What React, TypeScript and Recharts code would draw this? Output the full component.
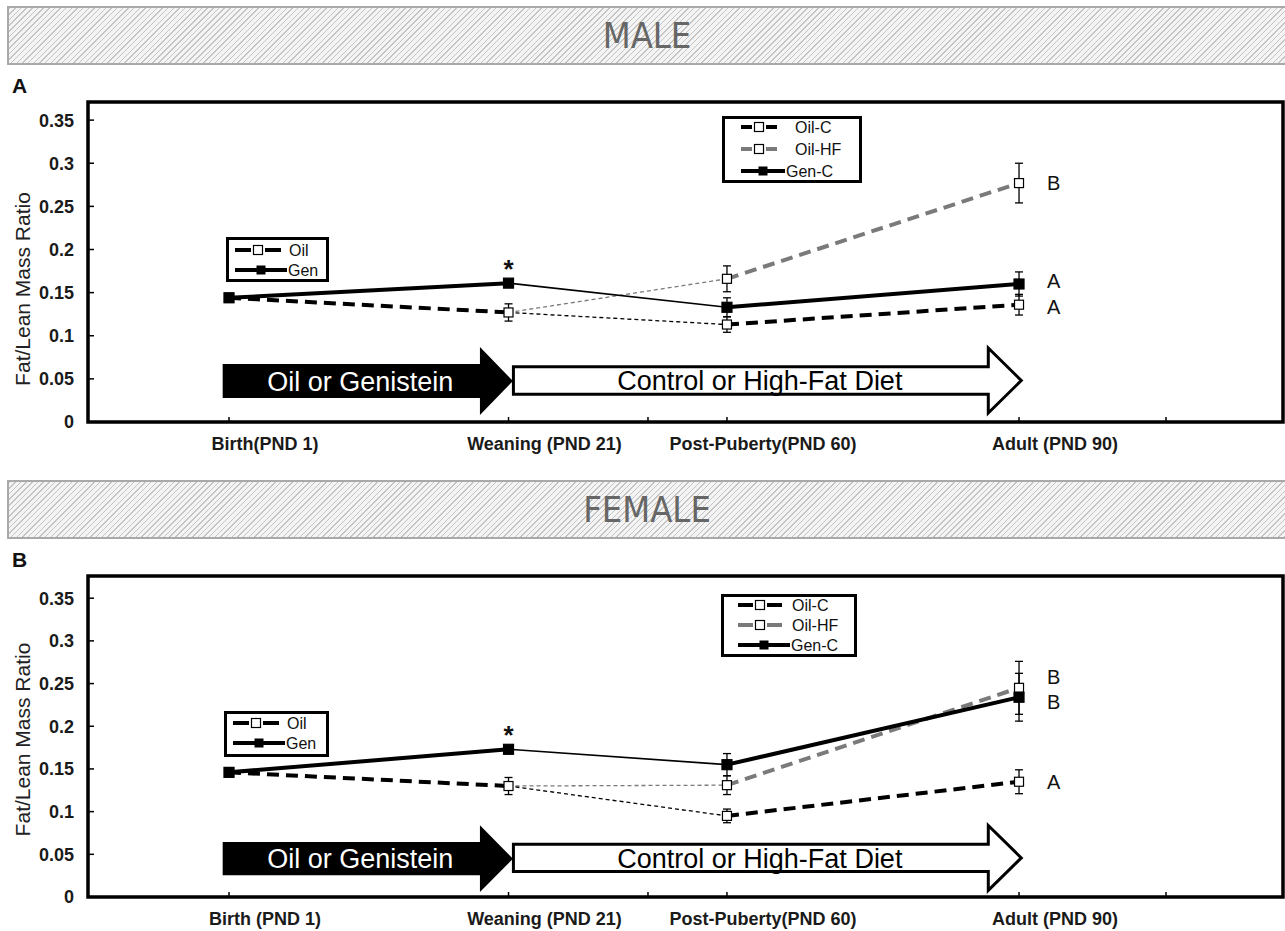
import React from 'react';
import { LineChart, Line, XAxis, YAxis, ErrorBar, LabelList, ReferenceArea } from 'recharts';

const FONT = '"Liberation Sans", Arial, Helvetica, sans-serif';
const NARROW = '"Liberation Sans Narrow", "DejaVu Sans Condensed", "Liberation Sans", sans-serif';

// sampling stages, placed on a 0-100 scale across the frame
const STAGE_X = [11.8, 35.19, 53.47, 77.91];
const BLANK_TICKS = [46.86, 90.21];
const MALE_STAGES = ['Birth(PND 1)', 'Weaning (PND 21)', 'Post-Puberty(PND 60)', 'Adult (PND 90)'];
const FEMALE_STAGES = ['Birth (PND 1)', 'Weaning (PND 21)', 'Post-Puberty(PND 60)', 'Adult (PND 90)'];
const Y_TICKS = [0, 0.05, 0.1, 0.15, 0.2, 0.25, 0.3, 0.35];

// male: neonatal treatment (birth, weaning)
const MALE_OIL = [0.144, 0.127];
const MALE_OIL_SEM = [0, 0.01];
const MALE_GEN = [0.144, 0.161];
const MALE_SIG = ['', '*'];
// male: diet phase (post-puberty, adult)
const MALE_OIL_C = [0.113, 0.136];
const MALE_OIL_C_SEM = [0.009, 0.012];
const MALE_OIL_HF = [0.166, 0.277];
const MALE_OIL_HF_SEM = [0.015, 0.023];
const MALE_GEN_C = [0.133, 0.16];
const MALE_GEN_C_SEM = [0.011, 0.014];
const MALE_GROUPS = ['A', 'B', 'A']; // Oil-C, Oil-HF, Gen-C

// female: neonatal treatment
const FEMALE_OIL = [0.146, 0.13];
const FEMALE_OIL_SEM = [0, 0.01];
const FEMALE_GEN = [0.146, 0.173];
const FEMALE_SIG = ['', '*'];
// female: diet phase
const FEMALE_OIL_C = [0.095, 0.135];
const FEMALE_OIL_C_SEM = [0.008, 0.014];
const FEMALE_OIL_HF = [0.131, 0.245];
const FEMALE_OIL_HF_SEM = [0.011, 0.031];
const FEMALE_GEN_C = [0.155, 0.234];
const FEMALE_GEN_C_SEM = [0.013, 0.028];
const FEMALE_GROUPS = ['A', 'B', 'B'];

const TREAT_X = STAGE_X.slice(0, 2);
const BRIDGE_X = STAGE_X.slice(1, 3);
const DIET_X = STAGE_X.slice(2);

const GREY = '#7a7a7a';
const THICK = 4;
const THIN = 1.3;
const LONG_DASH = '12 7';
const SHORT_DASH = '4 3';

const series = (xs: number[], ys: number[], sem?: number[], tags?: string[]) =>
  ys.map((y, i) => ({ x: xs[i], y, sem: sem ? sem[i] : 0, tag: tags ? tags[i] : '' }));

const square = (fill: string, size: number) => (p: any) => {
  const { cx, cy, index } = p;
  if (cx == null || cy == null) return <g key={`n${index}`} />;
  return (
    <rect key={`s${index}`} x={cx - size / 2} y={cy - size / 2} width={size} height={size}
      fill={fill} stroke="#000" strokeWidth={1.2} />
  );
};

const groupLetter = (shift: number) => (p: any) => {
  if (!p.value) return null;
  return (
    <text x={p.x + 28} y={p.y + shift} dy="0.36em" fontSize={20} fill="#111">{p.value}</text>
  );
};

const sigStar = (p: any) => {
  if (!p.value) return null;
  return (
    <text x={p.x} y={p.y - 5} textAnchor="middle" fontSize={26} fontWeight="bold" fill="#111">{p.value}</text>
  );
};

// block arrow drawn inside the reference area box
const arrowShape = (text: string, fill: string, textFill: string, inset: number, outline: number) => (p: any) => {
  const { x, y, width: w, height: h } = p;
  const head = 33;
  const bx = x + w - head;
  const t = h * inset;
  const pts = [[x, y + t], [bx, y + t], [bx, y], [x + w, y + h / 2], [bx, y + h], [bx, y + h - t], [x, y + h - t]];
  return (
    <g>
      <polygon points={pts.map((q) => q.join(',')).join(' ')} fill={fill}
        stroke={outline ? '#000' : 'none'} strokeWidth={outline} strokeLinejoin="miter" />
      <text x={(x + bx) / 2 + 9} y={y + h / 2} dy="0.36em" textAnchor="middle" fontSize={27} fill={textFill}>{text}</text>
    </g>
  );
};

const StageTick = (props: any) => {
  const { x, y, payload, labels } = props;
  const i = STAGE_X.indexOf(payload.value);
  if (i < 0) return null;
  return (
    <text x={x + 36} y={y} dy="0.71em" textAnchor="middle" fontSize={18} fontWeight="bold" fill="#1a1a1a">{labels[i]}</text>
  );
};

interface LegendRow { label: string; kind: 'open' | 'solid'; color: string; y: number }
interface LegendCfg { left: number; top: number; width: number; height: number; symX0: number; symX1: number; textX: number; solidTextX: number; rows: LegendRow[] }

const LegendBox = ({ cfg }: { cfg: LegendCfg }) => (
  <svg style={{ position: 'absolute', left: cfg.left, top: cfg.top }} width={cfg.width} height={cfg.height}>
    <rect x={1.5} y={1.5} width={cfg.width - 3} height={cfg.height - 3} fill="#fff" stroke="#000" strokeWidth={3} />
    {cfg.rows.map((r) => {
      if (r.kind === 'solid') {
        const end = cfg.solidTextX - 1;
        const c = (cfg.symX0 + end) / 2;
        return (
          <g key={r.label}>
            <line x1={cfg.symX0} x2={end} y1={r.y} y2={r.y} stroke={r.color} strokeWidth={THICK} />
            <rect x={c - 4.5} y={r.y - 4.5} width={9} height={9} fill="#000" />
            <text x={cfg.solidTextX} y={r.y} dy="0.36em" fontSize={16} fill="#111">{r.label}</text>
          </g>
        );
      }
      const c = (cfg.symX0 + cfg.symX1) / 2;
      return (
        <g key={r.label}>
          <line x1={cfg.symX0} x2={c - 7} y1={r.y} y2={r.y} stroke={r.color} strokeWidth={THICK} />
          <line x1={c + 7} x2={cfg.symX1} y1={r.y} y2={r.y} stroke={r.color} strokeWidth={THICK} />
          <rect x={c - 4.5} y={r.y - 4.5} width={9} height={9} fill="#fff" stroke="#000" strokeWidth={1.2} />
          <text x={cfg.textX} y={r.y} dy="0.36em" fontSize={16} fill="#111">{r.label}</text>
        </g>
      );
    })}
  </svg>
);

interface PanelProps {
  top: number;
  title: string;
  letter: string;
  stages: string[];
  oil: number[]; oilSem: number[]; gen: number[]; sig: string[];
  oilC: number[]; oilCSem: number[]; oilHF: number[]; oilHFSem: number[]; genC: number[]; genCSem: number[];
  groups: string[];
  groupShift: number[];
  yMax: number;
  plotH: number;
  yLabelShift: number;
  blackArrow: number[];
  whiteArrow: number[];
  legends: LegendCfg[];
}

const Panel = (p: PanelProps) => {
  const plotTop = 102;
  const lineBase = { type: 'linear' as const, dataKey: 'y', isAnimationActive: false, activeDot: false, legendType: 'none' as const };
  const errBar = <ErrorBar dataKey="sem" width={4} stroke="#000" strokeWidth={1.3} direction="y" />;
  return (
    <>
      <div style={{
        position: 'absolute', left: 7, top: p.top + 6, width: 1278, height: 59, boxSizing: 'border-box',
        border: '2px solid #a9a9a9', borderRight: 'none',
        background: 'repeating-linear-gradient(135deg, #c4c4c4 0px, #c4c4c4 1px, #f4f4f4 1px, #f4f4f4 4px)',
        display: 'flex', alignItems: 'center', justifyContent: 'center',
        fontFamily: NARROW, fontSize: 36, color: '#666',
      }}>{p.title}</div>
      <div style={{ position: 'absolute', left: 12, top: p.top + 75, fontSize: 21, fontWeight: 'bold', lineHeight: 1, color: '#111' }}>{p.letter}</div>
      <div style={{ position: 'absolute', left: 0, top: p.top }}>
        <LineChart width={1285} height={plotTop + p.plotH + 45} margin={{ top: plotTop, right: 2, bottom: 0, left: 0 }}>
          <XAxis type="number" dataKey="x" domain={[0, 100]} allowDataOverflow ticks={[...STAGE_X, ...BLANK_TICKS].sort((a, b) => a - b)}
            interval={0} height={45} axisLine={false} tickSize={-5} tickMargin={20}
            tickLine={{ stroke: '#000', strokeWidth: 1.5 }}
            tick={(tp: any) => <StageTick {...tp} labels={p.stages} />} />
          <YAxis type="number" domain={[0, p.yMax]} allowDataOverflow ticks={Y_TICKS} interval={0} width={88}
            axisLine={false} tickSize={-6} tickMargin={20} tickLine={{ stroke: '#000', strokeWidth: 1.5 }}
            tick={{ fontSize: 18, fontWeight: 'bold', fill: '#1a1a1a' }} tickFormatter={(v: number) => String(v)}
            label={{
              content: (lp: any) => {
                const vb = lp.viewBox;
                const cy = vb.y + vb.height / 2 + p.yLabelShift;
                return (
                  <text transform={`translate(22, ${cy}) rotate(-90)`} textAnchor="middle" dominantBaseline="central"
                    fontSize={21} fill="#222">Fat/Lean Mass Ratio</text>
                );
              },
            }} />

          <ReferenceArea x1={0} x2={100} y1={0} y2={p.yMax} fill="none" stroke="#000" strokeWidth={3.5} />
          <ReferenceArea x1={11.27} x2={35.56} y1={p.blackArrow[0]} y2={p.blackArrow[1]}
            shape={arrowShape('Oil or Genistein', '#000', '#fff', 0.25, 0)} />
          <ReferenceArea x1={35.6} x2={78.1} y1={p.whiteArrow[0]} y2={p.whiteArrow[1]}
            shape={arrowShape('Control or High-Fat Diet', '#fff', '#000', 0.29, 3)} />

          {/* weaning -> post-puberty hand-over */}
          <Line {...lineBase} data={series(BRIDGE_X, [p.oil[1], p.oilHF[0]])} stroke={GREY} strokeWidth={THIN} strokeDasharray={SHORT_DASH} dot={false} />
          <Line {...lineBase} data={series(BRIDGE_X, [p.oil[1], p.oilC[0]])} stroke="#000" strokeWidth={THIN} strokeDasharray={SHORT_DASH} dot={false} />
          <Line {...lineBase} data={series(BRIDGE_X, [p.gen[1], p.genC[0]])} stroke="#000" strokeWidth={1.6} dot={false} />

          {/* diet phase */}
          <Line {...lineBase} data={series(DIET_X, p.oilHF, p.oilHFSem, ['', p.groups[1]])} stroke={GREY} strokeWidth={THICK}
            strokeDasharray={LONG_DASH} dot={square('#fff', 9)}>
            {errBar}
            <LabelList dataKey="tag" content={groupLetter(p.groupShift[1])} />
          </Line>
          <Line {...lineBase} data={series(DIET_X, p.oilC, p.oilCSem, ['', p.groups[0]])} stroke="#000" strokeWidth={THICK}
            strokeDasharray={LONG_DASH} dot={square('#fff', 9)}>
            {errBar}
            <LabelList dataKey="tag" content={groupLetter(p.groupShift[0])} />
          </Line>
          <Line {...lineBase} data={series(DIET_X, p.genC, p.genCSem, ['', p.groups[2]])} stroke="#000" strokeWidth={THICK}
            dot={square('#000', 10)}>
            {errBar}
            <LabelList dataKey="tag" content={groupLetter(p.groupShift[2])} />
          </Line>

          {/* neonatal treatment */}
          <Line {...lineBase} data={series(TREAT_X, p.oil, p.oilSem)} stroke="#000" strokeWidth={THICK}
            strokeDasharray={LONG_DASH} dot={square('#fff', 9)}>
            {errBar}
          </Line>
          <Line {...lineBase} data={series(TREAT_X, p.gen, undefined, p.sig)} stroke="#000" strokeWidth={THICK}
            dot={square('#000', 10)}>
            <LabelList dataKey="tag" content={sigStar} />
          </Line>
        </LineChart>
      </div>
      {p.legends.map((l, i) => <LegendBox key={i} cfg={{ ...l, top: l.top + p.top }} />)}
    </>
  );
};

const treatRows = (y0: number, y1: number): LegendRow[] => [
  { label: 'Oil', kind: 'open', color: '#000', y: y0 },
  { label: 'Gen', kind: 'solid', color: '#000', y: y1 },
];
const dietRows = (y0: number, y1: number, y2: number): LegendRow[] => [
  { label: 'Oil-C', kind: 'open', color: '#000', y: y0 },
  { label: 'Oil-HF', kind: 'open', color: GREY, y: y1 },
  { label: 'Gen-C', kind: 'solid', color: '#000', y: y2 },
];

export default function App() {
  return (
    <div style={{ position: 'absolute', left: 0, top: 0, width: 1285, height: 931, background: '#fff', fontFamily: FONT, overflow: 'hidden' }}>
      <Panel top={0} title="MALE" letter="A" stages={MALE_STAGES}
        oil={MALE_OIL} oilSem={MALE_OIL_SEM} gen={MALE_GEN} sig={MALE_SIG}
        oilC={MALE_OIL_C} oilCSem={MALE_OIL_C_SEM} oilHF={MALE_OIL_HF} oilHFSem={MALE_OIL_HF_SEM}
        genC={MALE_GEN_C} genCSem={MALE_GEN_C_SEM} groups={MALE_GROUPS} groupShift={[2, 0, -3]}
        yMax={0.371} plotH={320} yLabelShift={27}
        blackArrow={[0.0081, 0.087]} whiteArrow={[0.0104, 0.0858]}
        legends={[
          { left: 226, top: 237, width: 103, height: 45, symX0: 9, symX1: 55, textX: 63, solidTextX: 62, rows: treatRows(13, 33) },
          { left: 722, top: 116, width: 140, height: 67, symX0: 19, symX1: 55, textX: 73, solidTextX: 64, rows: dietRows(11, 33, 55) },
        ]} />
      <Panel top={474} title="FEMALE" letter="B" stages={FEMALE_STAGES}
        oil={FEMALE_OIL} oilSem={FEMALE_OIL_SEM} gen={FEMALE_GEN} sig={FEMALE_SIG}
        oilC={FEMALE_OIL_C} oilCSem={FEMALE_OIL_C_SEM} oilHF={FEMALE_OIL_HF} oilHFSem={FEMALE_OIL_HF_SEM}
        genC={FEMALE_GEN_C} genCSem={FEMALE_GEN_C_SEM} groups={FEMALE_GROUPS} groupShift={[0, -11, 5]}
        yMax={0.376} plotH={321} yLabelShift={3}
        blackArrow={[0.0059, 0.0839]} whiteArrow={[0.0077, 0.0838]}
        legends={[
          { left: 224, top: 237, width: 105, height: 46, symX0: 9, symX1: 55, textX: 63, solidTextX: 62, rows: treatRows(12, 32) },
          { left: 721, top: 120, width: 136, height: 63, symX0: 17, symX1: 61, textX: 71, solidTextX: 70, rows: dietRows(11, 31, 51) },
        ]} />
    </div>
  );
}
